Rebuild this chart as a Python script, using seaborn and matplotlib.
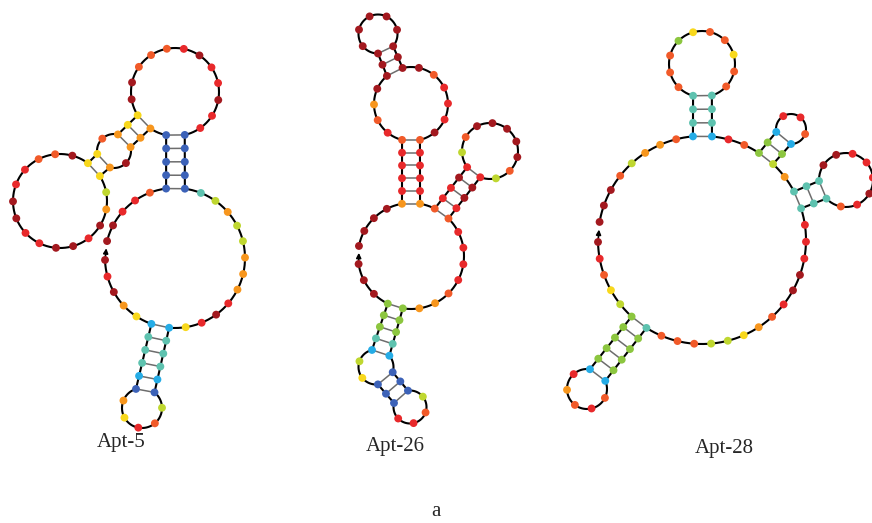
import numpy as np
import pandas as pd
import matplotlib
matplotlib.use("Agg")
import matplotlib.pyplot as plt
import seaborn as sns

# ------------------------------------------------------------------ data
APTAMERS = ["Apt-5", "Apt-26", "Apt-28"]
PANEL_LABEL = "a"

# per-nucleotide colour class along the backbone (5' -> 3')
COLORS_APT5 = ("DRDAYC" "TTTC" "BAYROLB" "CTTT" "CYRDRAAALLALTB" "BBB"
               "BRRDRRDROOODDY" "Y" "AOY" "YDOORRDDRRDDRDALY" "ADA" "A"
               "AB" "BBB" "BORRDD")
COLORS_APT26 = ("DDDG" "GGT" "CLYB" "B" "BRROLB" "B" "BC" "TGG" "GAAORRRRO"
                "RDD" "RLODDDDDOLR" "DRR" "OA" "RRRR" "ODRRRODD" "D" "DDDDDDD"
                "D" "DDAORO" "RRRR" "ADDDD")
COLORS_APT28 = ("DROYLG" "GGGG" "CRAOROC" "GGGG" "TOOOLLYAORDDRRRT" "T"
                "TORDRRRDDT" "T" "TAL" "G" "CORRC" "G" "GORC" "TT"
                "TOOYOOYGOOOT" "TT" "COAALODDD")

# secondary structures (dot-bracket)
STRUCT_APT5 = (".....(" "((((" "(.....)" "))))" ")............(" "(((" "(............("
               "(" "(.(" "(...............)" ").)" ")" "))" ")))" ").....")
STRUCT_APT26 = ("...(" "(((" "(..(" "(" "(....)" ")" "))" ")))" ").......(" "((("
                "(.........)" ")))" ")(" "((((" "(......(" "(" "(.....)" ")" ")....)"
                "))))" ")....")
STRUCT_APT28 = (".....(" "((((" "(.....)" "))))" ")..............(" "(" "(........)"
                ")" ").(" "(" "(...)" ")" ")..(" "((" "(..........)" "))" ")........")

COLOR_SEQS = {"Apt-5": COLORS_APT5, "Apt-26": COLORS_APT26, "Apt-28": COLORS_APT28}
STRUCTS = {"Apt-5": STRUCT_APT5, "Apt-26": STRUCT_APT26, "Apt-28": STRUCT_APT28}

# ------------------------------------------------------------------ style
PALETTE = {
    "D": "#a3191f", "R": "#e8292b", "O": "#f15a29", "A": "#f7961d",
    "Y": "#f8d81c", "L": "#bfd730", "G": "#8cc63f", "T": "#5ec2af",
    "C": "#25ace6", "B": "#3c62b8",
}

# ------------------------------------------------------------------ layout
# drawing layout (pixel space): loops are circles (cx, cy, r) with nucleotides
# spread evenly between start/end angles; stems interpolate straight strands.
M5, H5, T5, C5, L5 = (175, 258, 70), (142, 408, 20), (175, 92, 44), (114, 151, 17), (60, 201, 47)
M26, I26, H26 = (411, 256, 53), (376, 367, 17.5), (410, 407, 16.5)
R26, MC26, T26 = (490, 151, 28), (411, 104, 37), (378, 34, 19.5)
M28, B28, R28, S28, T28 = (702, 240, 104), (587, 389, 20), (846, 180, 27), (791, 129, 15), (702, 64, 33)

LAYOUT = {
    "Apt-5": [
        ("arc", M5, 181.6, 250.3, 6), ("stem", 4), ("arc", H5, 107.5, 411.3, 7),
        ("stem", 4), ("arc", M5, 265.2, 441.9, 14), ("stem", 3),
        ("arc", T5, 282.8, 571.9, 14), ("stem", 1), ("arc", C5, 76.8, 190, 3),
        ("stem", 0), ("arc", L5, 53.6, 392, 17), ("stem", 0),
        ("arc", C5, 256, 373.2, 3), ("stem", 1), ("arc", T5, 596, 618.4, 2),
        ("stem", 3), ("arc", M5, 457.3, 526, 6)],
    "Apt-26": [
        ("arc", M26, 188.7, 244, 4), ("stem", 3), ("arc", I26, 103.2, 276.3, 4),
        ("stem", 1), ("arc", H26, 166, 457.1, 6), ("stem", 1),
        ("arc", I26, 342.6, 400.2, 2), ("stem", 3), ("arc", M26, 261.1, 405, 9),
        ("stem", 3), ("arc", R26, 249.7, 575.3, 11), ("stem", 3),
        ("arc", M26, 423.4, 440.2, 2), ("stem", 4), ("arc", MC26, 284, 463.2, 8),
        ("stem", 1), ("arc", T26, 321, 630, 7), ("stem", 1),
        ("arc", MC26, 490.6, 616, 6), ("stem", 4), ("arc", M26, 459.8, 529.1, 5)],
    "Apt-28": [
        ("arc", M28, 181.1, 227.4, 6), ("stem", 4), ("arc", B28, 81.5, 384, 7),
        ("stem", 4), ("arc", M28, 237.7, 377.7, 16), ("stem", 1),
        ("arc", R28, 223.5, 542.1, 10), ("stem", 1), ("arc", M28, 387.8, 406.9, 3),
        ("stem", 1), ("arc", S28, 270, 551.3, 5), ("stem", 1),
        ("arc", M28, 416.8, 444.5, 4), ("stem", 2), ("arc", T28, 287.4, 614.3, 12),
        ("stem", 2), ("arc", M28, 455, 530, 9)],
}
LABEL_POS = {"Apt-5": (121, 443), "Apt-26": (395, 447), "Apt-28": (724, 448)}
PANEL_POS = (436, 511)


def circ(c, a):
    cx, cy, r = c
    t = np.deg2rad(a)
    return cx + r * np.cos(t), cy - r * np.sin(t)


def build(layout):
    xs, ys, segs, angs = [], [], [], []
    pending = 0
    for si, seg in enumerate(layout):
        if seg[0] == "stem":
            pending = seg[1]
            continue
        _, c, a0, a1, n = seg
        aa = np.linspace(a0, a1, n)
        p1 = circ(c, aa[0])
        if pending and xs:
            p0 = (xs[-1], ys[-1])
            for k in range(1, pending + 1):
                t = k / (pending + 1)
                xs.append(p0[0] + t * (p1[0] - p0[0]))
                ys.append(p0[1] + t * (p1[1] - p0[1]))
                segs.append(None)
                angs.append(None)
        pending = 0
        for a in aa:
            x, y = circ(c, a)
            xs.append(x); ys.append(y); segs.append((si, c)); angs.append(a)
    return np.array(xs), np.array(ys), segs, angs


def pairs_of(db):
    st, out = [], []
    for i, ch in enumerate(db):
        if ch == "(":
            st.append(i)
        elif ch == ")":
            out.append((st.pop(), i))
    return out


W, H = 872, 523
fig = plt.figure(figsize=(W / 100, H / 100), dpi=100)
sns.set_style("white")
ax = fig.add_axes([0, 0, 1, 1])
ax.set_xlim(0, W)
ax.set_ylim(H, 0)
ax.axis("off")

frames = []
for name in APTAMERS:
    xs, ys, segs, angs = build(LAYOUT[name])
    cols = list(COLOR_SEQS[name])
    n = min(len(xs), len(cols))
    # backbone
    px, py = [xs[0]], [ys[0]]
    for i in range(len(xs) - 1):
        if segs[i] is not None and segs[i] == segs[i + 1]:
            c = segs[i][1]
            aa = np.linspace(angs[i], angs[i + 1], 12)[1:]
            for a in aa:
                x, y = circ(c, a)
                px.append(x); py.append(y)
        else:
            px.append(xs[i + 1]); py.append(ys[i + 1])
    ax.plot(px, py, color="black", lw=1.5, zorder=1, solid_capstyle="round")
    # base-pair rungs
    for i, j in pairs_of(STRUCTS[name]):
        if i < len(xs) and j < len(xs):
            ax.plot([xs[i], xs[j]], [ys[i], ys[j]], color="#6d6d6d", lw=1.1, zorder=1)
    # 5' arrow
    s0 = np.array([xs[0], ys[0]]); e0 = np.array([xs[-1], ys[-1]])
    tip = s0 + 0.62 * (e0 - s0)
    ax.annotate("", xy=tip, xytext=s0,
                arrowprops=dict(arrowstyle="-|>", color="black", lw=1.2,
                                mutation_scale=7, shrinkA=0, shrinkB=0), zorder=2)
    frames.append(pd.DataFrame({"x": xs[:n], "y": ys[:n], "cls": cols[:n], "apt": name}))
    ax.text(*LABEL_POS[name], name, ha="center", va="center", fontsize=15,
            family=["Liberation Serif", "DejaVu Serif"])

df = pd.concat(frames, ignore_index=True)
sns.scatterplot(data=df, x="x", y="y", hue="cls", palette=PALETTE, s=32,
                edgecolor="none", linewidth=0, legend=False, ax=ax, zorder=3)
ax.set_xlim(0, W)
ax.set_ylim(H, 0)
ax.axis("off")
ax.text(*PANEL_POS, PANEL_LABEL, ha="center", va="center", fontsize=15,
        family=["Liberation Serif", "DejaVu Serif"])

fig.savefig("out.png", dpi=100, facecolor="white")
